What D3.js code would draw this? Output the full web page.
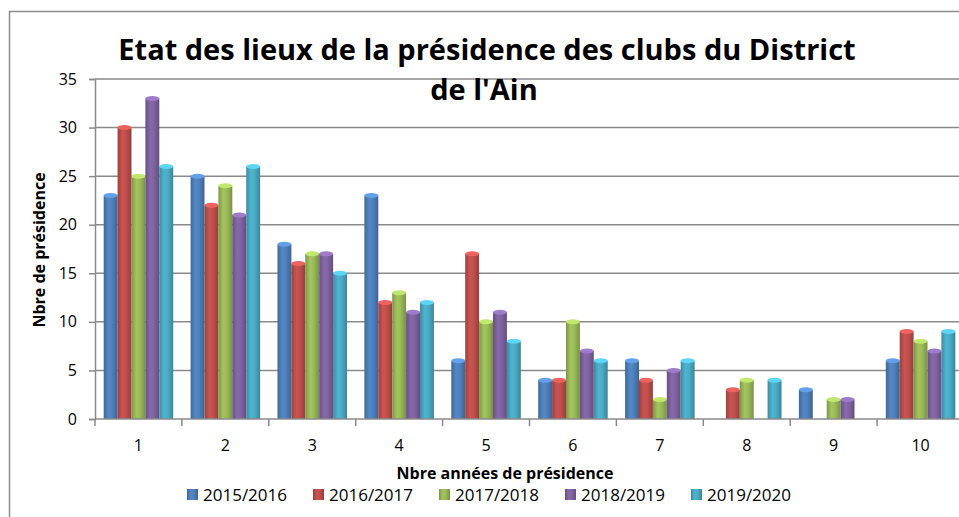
<!DOCTYPE html>
<html>
<head>
<meta charset="utf-8">
<script src="https://cdn.jsdelivr.net/npm/d3@7"></script>
<style>
  body { margin: 0; background: #fff; }
  text { font-family: "Open Sans", sans-serif; }
</style>
</head>
<body>
<div id="chart"></div>
<script>
var categories = ["1", "2", "3", "4", "5", "6", "7", "8", "9", "10"];
var seasons = ["2015/2016", "2016/2017", "2017/2018", "2018/2019", "2019/2020"];
var colors = ["#4F81BD", "#C0504D", "#9BBB59", "#8064A2", "#4BACC6"];
var yTicks = [0, 5, 10, 15, 20, 25, 30, 35];

var v2015 = [23, 25, 18, 23, 6, 4, 6, 0, 3, 6];
var v2016 = [30, 22, 16, 12, 17, 4, 4, 3, 0, 9];
var v2017 = [25, 24, 17, 13, 10, 10, 2, 4, 2, 8];
var v2018 = [33, 21, 17, 11, 11, 7, 5, 0, 2, 7];
var v2019 = [26, 26, 15, 12, 8, 6, 6, 4, 0, 9];
var seriesValues = [v2015, v2016, v2017, v2018, v2019];

var width = 959, height = 517;
var plot = { left: 95, right: 964, top: 79, bottom: 419 };

var svg = d3.select("#chart").append("svg")
  .attr("width", width)
  .attr("height", height)
  .style("display", "block");

// cylinder-ish shading for each colour
var defs = svg.append("defs");
colors.forEach(function (c, i) {
  var g = defs.append("linearGradient")
    .attr("id", "grad" + i)
    .attr("x1", "0%").attr("x2", "100%").attr("y1", "0%").attr("y2", "0%");
  g.append("stop").attr("offset", "0%").attr("stop-color", d3.color(c).darker(0.6));
  g.append("stop").attr("offset", "35%").attr("stop-color", d3.color(c).brighter(0.15));
  g.append("stop").attr("offset", "60%").attr("stop-color", c);
  g.append("stop").attr("offset", "100%").attr("stop-color", d3.color(c).darker(0.7));
});

// chart frame
svg.append("rect")
  .attr("x", 9.5).attr("y", 11.5)
  .attr("width", 980).attr("height", 540)
  .attr("fill", "none")
  .attr("stroke", "#8c8c8c")
  .attr("stroke-width", 1.5);

var x0 = d3.scaleBand()
  .domain(categories)
  .range([plot.left, plot.right])
  .paddingInner(0.2)
  .paddingOuter(0.1);

var x1 = d3.scaleBand()
  .domain(seasons)
  .range([0, x0.bandwidth()]);

var y = d3.scaleLinear()
  .domain([0, 35])
  .range([plot.bottom, plot.top]);

// gridlines
svg.append("g")
  .selectAll("line")
  .data(yTicks.slice(1))
  .enter()
  .append("line")
  .attr("x1", plot.left)
  .attr("x2", width)
  .attr("y1", function (d) { return y(d); })
  .attr("y2", function (d) { return y(d); })
  .style("stroke", "#8a8a8a")
  .style("stroke-width", 1.5);

// y axis
var yAxis = svg.append("g")
  .attr("transform", "translate(" + plot.left + ",0)")
  .call(d3.axisLeft(y).tickValues(yTicks).tickSize(6).tickPadding(12));
yAxis.select(".domain").style("stroke", "#8a8a8a").style("stroke-width", 1.5);
yAxis.selectAll(".tick line").style("stroke", "#8a8a8a").style("stroke-width", 1.5);
yAxis.selectAll("text")
  .style("font-family", "'Open Sans', sans-serif")
  .style("font-size", "16px")
  .attr("fill", "#000");

// bars
var groups = svg.append("g")
  .selectAll("g")
  .data(categories)
  .enter()
  .append("g")
  .attr("transform", function (d) { return "translate(" + x0(d) + ",0)"; });

var bars = groups.selectAll("g.bar")
  .data(function (d, ci) {
    return seasons.map(function (s, si) {
      return { season: s, si: si, value: seriesValues[si][ci] };
    });
  })
  .enter()
  .append("g")
  .attr("class", "bar")
  .filter(function (d) { return d.value > 0; });

bars.append("rect")
  .attr("x", function (d) { return x1(d.season); })
  .attr("y", function (d) { return y(d.value); })
  .attr("width", x1.bandwidth())
  .attr("height", function (d) { return y(0) - y(d.value); })
  .style("fill", function (d) { return "url(#grad" + d.si + ")"; });

bars.append("ellipse")
  .attr("cx", function (d) { return x1(d.season) + x1.bandwidth() / 2; })
  .attr("cy", function (d) { return y(d.value); })
  .attr("rx", x1.bandwidth() / 2)
  .attr("ry", 2.5)
  .style("fill", function (d) { return d3.color(colors[d.si]).brighter(0.6); });

// x axis
var xAxisG = svg.append("g")
  .attr("transform", "translate(0," + plot.bottom + ")");
xAxisG.append("line")
  .attr("x1", plot.left).attr("x2", width)
  .attr("y1", 0).attr("y2", 0)
  .style("stroke", "#8a8a8a")
  .style("stroke-width", 1.5);
xAxisG.selectAll("line.tick")
  .data(categories)
  .enter()
  .append("line")
  .attr("class", "tick")
  .attr("x1", function (d) { return x0(d) - x0.step() * x0.paddingInner() / 2; })
  .attr("x2", function (d) { return x0(d) - x0.step() * x0.paddingInner() / 2; })
  .attr("y1", 0).attr("y2", 7)
  .style("stroke", "#8a8a8a")
  .style("stroke-width", 1.5);
xAxisG.selectAll("text")
  .data(categories)
  .enter()
  .append("text")
  .attr("x", function (d) { return x0(d) + x0.bandwidth() / 2; })
  .attr("y", 32)
  .attr("text-anchor", "middle")
  .style("font-size", "16px")
  .text(function (d) { return d; });

// titles
svg.append("text")
  .attr("x", 487).attr("y", 60)
  .attr("text-anchor", "middle")
  .style("font-size", "29px")
  .style("font-weight", "bold")
  .text("Etat des lieux de la présidence des clubs du District");
svg.append("text")
  .attr("x", 484).attr("y", 100)
  .attr("text-anchor", "middle")
  .style("font-size", "29px")
  .style("font-weight", "bold")
  .text("de l'Ain");

svg.append("text")
  .attr("x", 505).attr("y", 479)
  .attr("text-anchor", "middle")
  .style("font-size", "16px")
  .style("font-weight", "bold")
  .text("Nbre années de présidence");

svg.append("text")
  .attr("transform", "translate(45,250) rotate(-90)")
  .attr("text-anchor", "middle")
  .style("font-size", "16px")
  .style("font-weight", "bold")
  .text("Nbre de présidence");

// legend
var legend = svg.append("g")
  .selectAll("g")
  .data(seasons)
  .enter()
  .append("g")
  .attr("transform", function (d, i) { return "translate(" + (187 + i * 126) + ",489)"; });
legend.append("rect")
  .attr("width", 11).attr("height", 11)
  .style("fill", function (d, i) { return "url(#grad" + i + ")"; });
legend.append("text")
  .attr("x", 16).attr("y", 11.5)
  .style("font-size", "17px")
  .text(function (d) { return d; });
</script>
</body>
</html>
